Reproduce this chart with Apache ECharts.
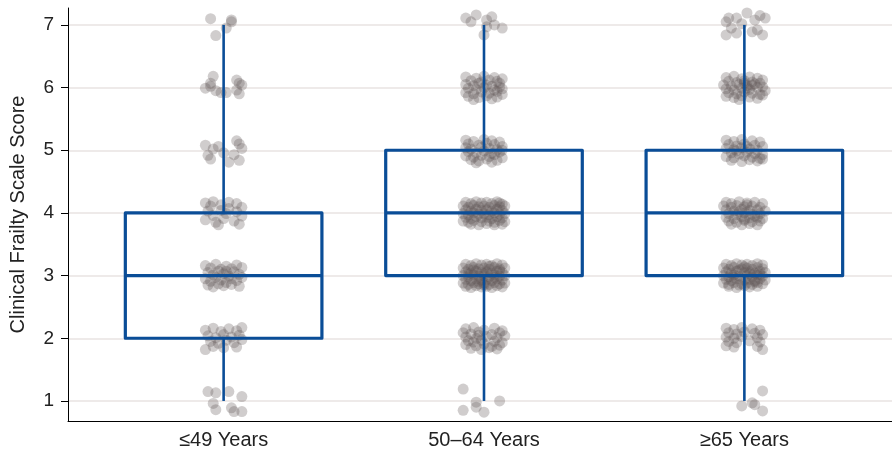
<!DOCTYPE html>
<html><head><meta charset="utf-8">
<script src="https://cdn.jsdelivr.net/npm/echarts@6/dist/echarts.min.js"></script>
<style>html,body{margin:0;padding:0;background:#fff}#c{width:892px;height:453px}</style>
</head><body><div id="c"></div><script>
const categories = ['≤49 Years', '50–64 Years', '≥65 Years'];
const yTicks = [1, 2, 3, 4, 5, 6, 7];
const boxMin = [1, 1, 1];
const boxQ1 = [2, 3, 3];
const boxMedian = [3, 4, 4];
const boxQ3 = [4, 5, 5];
const boxMax = [7, 7, 7];

const pts49 = [
[0.95,7.10],[1.03,7.08],[1.03,7.05],[0.97,6.83],[1.01,6.95],
[0.96,6.18],[0.95,6.07],[0.93,5.99],[0.97,5.95],[0.99,5.92],[1.01,5.92],[1.05,6.12],[1.06,6.07],[1.07,6.04],[1.05,5.96],[1.06,5.90],[0.95,6.02],
[0.93,5.08],[0.94,4.92],[0.95,4.86],[0.98,5.06],[1.00,4.96],[1.05,5.15],[1.06,5.10],[1.07,5.03],[1.04,4.93],[1.06,4.84],[1.02,4.81],[0.96,5.02],
[0.93,4.16],[0.95,4.11],[0.96,4.18],[0.99,4.13],[1.02,4.17],[1.05,4.15],[1.07,4.09],[0.94,4.03],[0.96,3.96],[0.99,4.04],[1.01,3.99],[1.05,4.02],[1.07,3.95],[0.93,3.89],[0.97,3.85],[1.00,3.91],[1.04,3.87],[1.06,3.82],[0.98,3.81],[1.02,4.07],
[0.93,3.16],[0.95,3.12],[0.97,3.18],[0.99,3.10],[1.01,3.15],[1.03,3.11],[1.05,3.17],[1.07,3.13],[0.94,3.05],[0.96,3.01],[0.98,3.07],[1.00,3.03],[1.02,2.99],[1.04,3.06],[1.06,3.02],[0.93,2.95],[0.95,2.91],[0.97,2.97],[0.99,2.93],[1.01,2.89],[1.03,2.95],[1.05,2.92],[1.07,2.97],[0.94,2.85],[0.96,2.82],[0.98,2.87],[1.00,2.84],[1.03,2.86],[1.06,2.83],[1.01,3.07],
[0.93,2.13],[0.96,2.16],[0.99,2.11],[1.02,2.15],[1.05,2.12],[1.07,2.17],[0.94,2.04],[0.97,2.01],[1.00,2.06],[1.03,2.02],[1.06,2.05],[0.95,1.95],[0.98,1.92],[1.01,1.97],[1.04,1.93],[1.07,1.98],[0.93,1.82],[0.96,1.87],[1.00,1.85],[1.05,1.86],
[0.94,1.15],[0.97,1.13],[1.02,1.15],[1.07,1.07],[0.96,0.96],[0.97,0.86],[1.03,0.89],[1.04,0.83],[1.07,0.83]
];

const pts5064 = [
[1.93,7.11],[1.97,7.16],[2.01,7.08],[2.03,7.13],[2.04,7.00],[2.07,6.95],[2.00,6.84],[2.01,6.97],[1.95,7.05],
[1.93,6.17],[1.97,6.15],[2.00,6.18],[2.04,6.16],[2.07,6.14],[1.95,6.11],[1.99,6.09],[2.02,6.12],[2.05,6.10],[2.06,6.07],
[1.93,6.05],[1.96,6.03],[1.98,6.07],[2.01,6.04],[2.03,6.02],[2.06,6.01],[1.94,5.99],[1.97,5.97],[2.00,6.00],[2.04,5.96],[2.07,5.98],
[1.93,5.92],[1.96,5.90],[1.99,5.93],[2.02,5.91],[2.05,5.94],[2.07,5.89],[1.94,5.86],[1.98,5.84],[2.01,5.87],[2.05,5.85],[1.96,5.81],[2.03,5.82],
[1.93,5.16],[1.96,5.14],[2.00,5.17],[2.03,5.15],[2.06,5.13],[1.94,5.10],[1.98,5.08],[2.01,5.11],[2.04,5.09],[2.07,5.06],
[1.93,5.04],[1.95,5.02],[1.99,5.05],[2.02,5.03],[2.05,5.01],[2.07,5.00],[1.94,4.98],[1.97,4.96],[2.00,4.99],[2.03,4.95],[2.06,4.97],
[1.93,4.91],[1.96,4.89],[1.99,4.92],[2.02,4.90],[2.04,4.93],[2.07,4.88],[1.95,4.85],[1.98,4.83],[2.01,4.86],[2.05,4.84],[1.97,4.80],[2.03,4.81],
[1.93,4.17],[1.95,4.15],[1.97,4.18],[1.99,4.16],[2.01,4.17],[2.03,4.15],[2.05,4.18],[2.06,4.16],[2.07,4.14],
[1.92,4.11],[1.94,4.09],[1.96,4.12],[1.98,4.10],[2.00,4.11],[2.02,4.09],[2.04,4.12],[2.06,4.10],[2.08,4.11],
[1.93,4.05],[1.95,4.03],[1.97,4.06],[1.99,4.04],[2.01,4.05],[2.03,4.03],[2.05,4.06],[2.07,4.04],
[1.92,3.99],[1.94,3.97],[1.96,4.00],[1.98,3.98],[2.00,3.99],[2.02,3.97],[2.04,4.00],[2.06,3.98],[2.08,3.99],
[1.93,3.93],[1.95,3.91],[1.97,3.94],[1.99,3.92],[2.01,3.93],[2.03,3.91],[2.05,3.94],[2.07,3.92],
[1.92,3.87],[1.94,3.85],[1.96,3.88],[1.99,3.86],[2.02,3.87],[2.04,3.85],[2.06,3.88],[2.08,3.86],
[1.95,3.82],[1.98,3.81],[2.01,3.83],[2.04,3.81],[2.07,3.82],
[1.93,3.18],[1.95,3.16],[1.97,3.19],[1.99,3.17],[2.01,3.18],[2.03,3.16],[2.05,3.19],[2.07,3.17],
[1.92,3.12],[1.94,3.10],[1.96,3.13],[1.98,3.11],[2.00,3.12],[2.02,3.10],[2.04,3.13],[2.06,3.11],[2.08,3.12],
[1.93,3.06],[1.95,3.04],[1.97,3.07],[1.99,3.05],[2.01,3.06],[2.03,3.04],[2.05,3.07],[2.07,3.05],
[1.92,3.00],[1.94,2.98],[1.96,3.01],[1.98,2.99],[2.00,3.00],[2.02,2.98],[2.04,3.01],[2.06,2.99],[2.08,3.00],
[1.93,2.94],[1.95,2.92],[1.97,2.95],[1.99,2.93],[2.01,2.94],[2.03,2.92],[2.05,2.95],[2.07,2.93],
[1.92,2.88],[1.94,2.86],[1.96,2.89],[1.98,2.87],[2.00,2.88],[2.02,2.86],[2.04,2.89],[2.06,2.87],[2.08,2.88],
[1.93,2.83],[1.95,2.81],[1.97,2.84],[1.99,2.82],[2.01,2.83],[2.03,2.81],[2.05,2.84],[2.07,2.82],
[1.96,3.09],[2.00,3.03],[2.04,2.97],[1.98,2.91],[2.02,3.15],[1.94,3.02],[2.06,3.08],[2.00,2.85],
[1.93,2.15],[1.96,2.17],[2.00,2.13],[2.04,2.16],[2.07,2.12],[1.92,2.09],[1.95,2.07],[1.98,2.10],[2.03,2.06],[2.06,2.09],
[1.93,2.02],[1.97,2.00],[2.01,2.03],[2.05,2.01],[2.08,2.04],[1.94,1.96],[1.96,1.94],[1.99,1.97],[2.04,1.95],[2.07,1.93],
[1.93,1.90],[1.97,1.88],[2.00,1.91],[2.03,1.87],[2.06,1.89],[1.95,1.84],[1.99,1.82],[2.02,1.85],[2.05,1.83],[1.98,2.05],
[1.92,1.19],[1.97,0.98],[1.97,0.90],[2.00,0.82],[1.92,0.85],[2.06,1.00]
];

const pts65 = [
[2.94,7.11],[2.97,7.11],[3.01,7.19],[3.08,7.11],[2.93,6.84],[2.97,6.87],[3.04,7.08],[3.03,6.89],[3.07,6.84],[3.05,6.92],[2.95,6.95],[2.99,7.02],[2.93,7.05],[3.06,7.15],
[2.93,6.16],[2.96,6.18],[2.99,6.14],[3.02,6.17],[3.05,6.15],[3.07,6.12],[2.94,6.10],[2.97,6.08],[3.00,6.11],[3.03,6.09],[3.06,6.07],
[2.92,6.04],[2.95,6.02],[2.98,6.05],[3.01,6.03],[3.04,6.06],[3.07,6.01],[2.93,5.98],[2.96,5.96],[2.99,5.99],[3.02,5.97],[3.05,6.00],[3.08,5.95],
[2.94,5.92],[2.97,5.90],[3.00,5.93],[3.03,5.91],[3.06,5.89],[2.93,5.86],[2.96,5.84],[2.99,5.87],[3.02,5.85],[3.05,5.83],
[2.98,5.81],[3.01,6.00],[3.03,6.04],[3.00,6.07],[3.07,5.88],
[2.93,5.16],[2.96,5.14],[2.99,5.17],[3.03,5.15],[3.06,5.13],[2.94,5.09],[2.97,5.07],[3.00,5.10],[3.04,5.08],[3.07,5.06],
[2.93,5.03],[2.96,5.01],[2.99,5.04],[3.02,5.02],[3.05,5.00],[2.95,4.96],[2.98,4.94],[3.01,4.97],[3.04,4.95],[3.07,4.93],
[2.93,4.90],[2.96,4.88],[3.00,4.91],[3.03,4.89],[3.06,4.87],[2.95,4.84],[2.99,4.82],[3.02,4.85],[3.05,4.83],[3.07,4.86],
[3.01,5.06],[2.97,4.99],
[2.93,4.17],[2.95,4.15],[2.98,4.18],[3.01,4.16],[3.04,4.17],[3.07,4.15],[2.92,4.11],[2.95,4.09],[2.97,4.12],[3.00,4.10],[3.03,4.11],[3.06,4.09],
[2.93,4.05],[2.96,4.03],[2.99,4.06],[3.02,4.04],[3.05,4.05],[3.08,4.03],[2.94,3.99],[2.97,3.97],[3.00,4.00],[3.03,3.98],[3.06,3.99],
[2.93,3.93],[2.96,3.91],[2.99,3.94],[3.02,3.92],[3.05,3.93],[3.07,3.91],[2.94,3.87],[2.97,3.85],[3.00,3.88],[3.03,3.86],[3.06,3.87],
[2.95,3.82],[2.99,3.81],[3.02,3.83],[3.05,3.81],[3.01,4.13],[2.98,4.02],[3.04,3.95],[3.00,3.90],
[2.93,3.18],[2.95,3.16],[2.97,3.19],[2.99,3.17],[3.01,3.18],[3.03,3.16],[3.05,3.19],[3.07,3.17],
[2.92,3.12],[2.94,3.10],[2.96,3.13],[2.99,3.11],[3.01,3.12],[3.03,3.10],[3.05,3.13],[3.07,3.11],
[2.93,3.06],[2.95,3.04],[2.97,3.07],[3.00,3.05],[3.02,3.06],[3.04,3.04],[3.06,3.07],[3.08,3.05],
[2.92,3.00],[2.94,2.98],[2.96,3.01],[2.98,2.99],[3.01,3.00],[3.03,2.98],[3.05,3.01],[3.07,2.99],
[2.93,2.94],[2.95,2.92],[2.97,2.95],[3.00,2.93],[3.02,2.94],[3.04,2.92],[3.06,2.95],[3.08,2.93],
[2.92,2.88],[2.94,2.86],[2.96,2.89],[2.99,2.87],[3.01,2.88],[3.03,2.86],[3.05,2.89],[3.07,2.87],
[2.94,2.83],[2.97,2.81],[3.00,2.84],[3.02,2.82],[3.05,2.83],
[2.98,3.09],[3.02,3.03],[2.96,2.97],[3.04,2.90],[3.00,3.14],[2.98,2.85],[3.06,3.02],
[2.93,2.16],[2.96,2.14],[2.99,2.17],[3.03,2.15],[3.06,2.13],[2.94,2.09],[2.97,2.07],[3.00,2.10],[3.04,2.08],[3.07,2.06],
[2.93,2.02],[2.96,2.00],[2.99,2.03],[3.05,2.01],[2.94,1.95],[2.97,1.93],[3.02,1.96],[3.06,1.94],
[2.93,1.88],[2.96,1.86],[3.05,1.87],[3.07,1.82],
[3.07,1.16],[2.99,0.92],[3.03,0.97],[3.07,0.84],[3.04,0.94]
];

const FONT = '"Liberation Sans", Arial, Helvetica, sans-serif';
const BLUE = '#0a4d97';
const BOX_WIDTH = 0.755;

const boxData = categories.map((c, i) => [i + 1, boxMin[i], boxQ1[i], boxMedian[i], boxQ3[i], boxMax[i]]);

const chart = echarts.init(document.getElementById('c'), null, { renderer: 'canvas' });
chart.setOption({
  animation: false,
  backgroundColor: '#fff',
  grid: { left: 66, right: 0, top: 8, bottom: 32 },
  xAxis: {
    type: 'value', min: 0.4023, max: 3.567,
    axisLine: { show: true, onZero: false, lineStyle: { color: '#000', width: 1 } },
    axisTick: { show: false },
    splitLine: { show: false },
    axisLabel: {
      customValues: [1, 2, 3],
      formatter: v => categories[Math.round(v) - 1] || '',
      color: '#222', fontSize: 20, fontFamily: FONT, margin: 9
    }
  },
  yAxis: {
    type: 'value', min: 0.68, max: 7.27,
    name: 'Clinical Frailty Scale Score', nameLocation: 'middle', nameGap: 40,
    nameTextStyle: { color: '#222', fontSize: 20, fontFamily: FONT },
    axisLine: { show: true, onZero: false, lineStyle: { color: '#000', width: 1 } },
    axisTick: { show: true, length: 7, customValues: yTicks, lineStyle: { color: '#000', width: 1 } },
    axisLabel: { customValues: yTicks, color: '#222', fontSize: 19, fontFamily: FONT, margin: 14 },
    splitLine: { show: true, lineStyle: { color: '#e9e3e2', width: 1.5 } }
  },
  series: [
    {
      type: 'scatter', silent: true, z: 2,
      symbol: 'circle', symbolSize: 11,
      itemStyle: { color: 'rgba(92,82,82,0.36)' },
      data: pts49.concat(pts5064, pts65)
    },
    {
      type: 'custom', silent: true, z: 3,
      encode: { x: 0, y: [1, 2, 3, 4, 5] },
      data: boxData,
      renderItem: function (params, api) {
        const x = api.value(0);
        const pMin = api.coord([x, api.value(1)]);
        const pQ1 = api.coord([x, api.value(2)]);
        const pMed = api.coord([x, api.value(3)]);
        const pQ3 = api.coord([x, api.value(4)]);
        const pMax = api.coord([x, api.value(5)]);
        const half = api.size([BOX_WIDTH, 0])[0] / 2;
        return {
          type: 'group',
          children: [
            { type: 'line', shape: { x1: pMin[0], y1: pMin[1], x2: pQ1[0], y2: pQ1[1] }, style: { stroke: BLUE, lineWidth: 2.6 } },
            { type: 'line', shape: { x1: pQ3[0], y1: pQ3[1], x2: pMax[0], y2: pMax[1] }, style: { stroke: BLUE, lineWidth: 2.6 } },
            { type: 'rect', shape: { x: pQ1[0] - half, y: pQ3[1], width: half * 2, height: pQ1[1] - pQ3[1] }, style: { fill: 'none', stroke: BLUE, lineWidth: 3.2, lineJoin: 'round' } },
            { type: 'line', shape: { x1: pMed[0] - half, y1: pMed[1], x2: pMed[0] + half, y2: pMed[1] }, style: { stroke: BLUE, lineWidth: 3.2 } }
          ]
        };
      }
    }
  ]
});
</script></body></html>
